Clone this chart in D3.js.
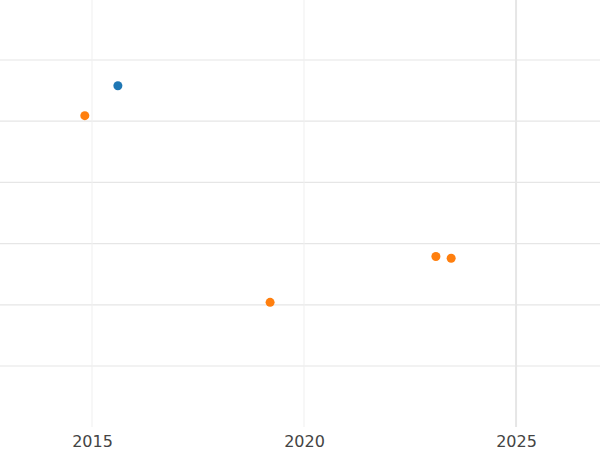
<!DOCTYPE html>
<html><head><meta charset="utf-8">
<script src="https://cdn.jsdelivr.net/npm/d3@7"></script>
<style>body{margin:0;background:#fff}</style>
</head><body>
<svg width="600" height="450"></svg>
<script>
const blueYears = [2015.61]
const blueValues = [5.58]
const orangeYears = [2014.83, 2019.2, 2023.11, 2023.47]
const orangeValues = [5.09, 2.04, 2.79, 2.76]
const xTicks = [2015, 2020, 2025]
const yTicks = [1, 2, 3, 4, 5, 6]

const svg = d3.select('svg')
const width = 600, height = 450

const xScale = d3.scaleLinear().domain([2012.83, 2026.98]).range([0, width])
const yScale = d3.scaleLinear().domain([0, 7]).range([427.2, -1.2])

const g = svg.append('g')

g.selectAll('.hgrid').data(yTicks).enter().append('line')
  .attr('x1', 0).attr('x2', width)
  .attr('y1', d => yScale(d)).attr('y2', d => yScale(d))
  .attr('stroke', '#e6e6e6').attr('stroke-width', 1.2)

g.selectAll('.vgrid').data(xTicks).enter().append('line')
  .attr('y1', 0).attr('y2', 427)
  .attr('x1', d => xScale(d)).attr('x2', d => xScale(d))
  .attr('stroke', (d, i) => i === 2 ? '#e6e6e6' : '#efefef').attr('stroke-width', (d, i) => i === 2 ? 2 : 1)

const xAxis = d3.axisBottom(xScale).tickValues(xTicks).tickFormat(d3.format('d')).tickSize(0)
const xAxisG = g.append('g').attr('transform', 'translate(0, 433)').call(xAxis)
xAxisG.select('.domain').remove()
xAxisG.selectAll('text').attr('font-family', 'DejaVu Sans').attr('font-size', 16).attr('fill', '#444')

const dot = (xs, ys, color) => g.append('g').selectAll('circle')
  .data(xs.map((x, i) => [x, ys[i]])).enter().append('circle')
  .attr('cx', d => xScale(d[0])).attr('cy', d => yScale(d[1]))
  .attr('r', 4.5).attr('fill', color)

dot(blueYears, blueValues, '#1f77b4')
dot(orangeYears, orangeValues, '#ff7f0e')
</script>
</body></html>
